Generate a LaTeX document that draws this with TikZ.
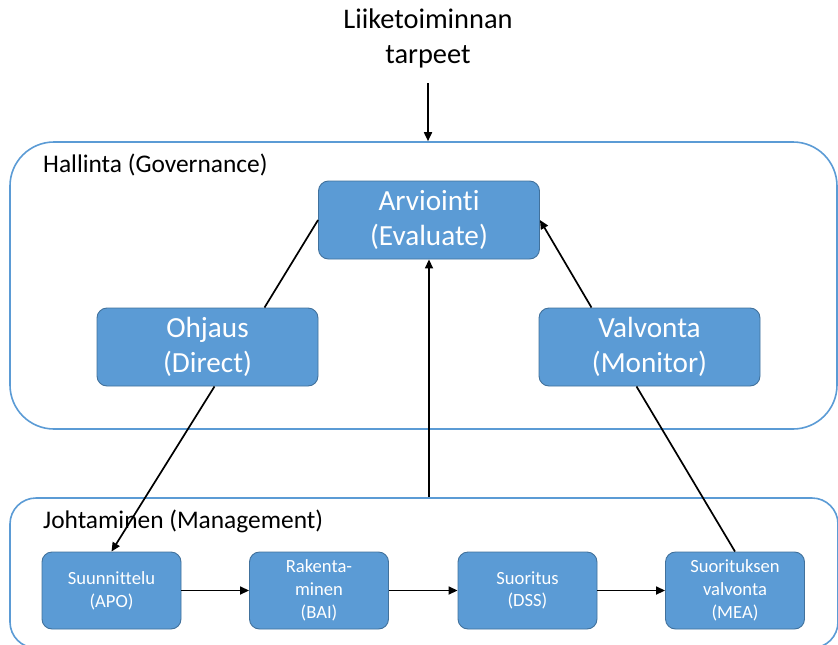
\documentclass[tikz,border=0pt]{standalone}
\usepackage{fontspec}
\setmainfont{Carlito}[Ligatures=NoCommon]
\usetikzlibrary{arrows.meta}
\definecolor{boxfill}{HTML}{5B9BD5}
\definecolor{boxline}{HTML}{41719C}

\begin{document}
\begin{tikzpicture}[x=1pt,y=-1pt,
  procbox/.style={draw=boxline, line width=0.9pt, fill=boxfill, rounded corners=10pt,
    text=white, align=center, inner sep=0pt},
  bigbox/.style={procbox, minimum width=221pt, minimum height=78pt,
    font=\fontsize{29.2}{35}\selectfont},
  smallbox/.style={procbox, minimum width=139pt, minimum height=77pt,
    font=\fontsize{18.6}{22.7}\selectfont},
  region/.style={draw=boxfill, line width=1.6pt, inner sep=0pt},
  regionlabel/.style={anchor=base west, inner sep=0pt, font=\fontsize{25.4}{30}\selectfont},
  titletext/.style={anchor=base, inner sep=0pt, font=\fontsize{28.4}{34}\selectfont},
  link/.style={line width=1.7pt, draw=black},
  flow/.style={link, -{Triangle[length=9pt,width=8pt]}},
]
\useasboundingbox (0,0) rectangle (838,645);

% containers
\node[region, rounded corners=44pt, minimum width=827pt, minimum height=287pt] (gov) at (423.5,285.5) {};
\node[region, rounded corners=26pt, minimum width=828pt, minimum height=150pt] (mgmt) at (424,573) {};
\node[regionlabel] (govlabel) at (43,172) {Hallinta (Governance)};
\node[regionlabel] (mgmtlabel) at (43,528) {Johtaminen (Management)};

% business needs
\node[titletext] (needs1) at (428,28) {Liiketoiminnan};
\node[titletext] (needs2) at (428,63) {tarpeet};
\coordinate (needsfoot) at (428,83);

% governance processes
\node[bigbox] (eval) at (429,220) {Arviointi\\(Evaluate)};
\node[bigbox] (direct) at (207.5,347) {Ohjaus\\(Direct)};
\node[bigbox] (monitor) at (649.5,347) {Valvonta\\(Monitor)};

% management processes
\node[smallbox] (apo) at (111.5,590.5) {Suunnittelu\\(APO)};
\node[smallbox] (bai) at (319,590.5) {Rakenta-\\minen\\(BAI)};
\node[smallbox] (dss) at (527.5,590.5) {Suoritus\\(DSS)};
\node[smallbox] (mea) at (735,590.5) {Suorituksen\\valvonta\\(MEA)};

% connectors
\draw[flow] (needsfoot) -- (needsfoot |- gov.north);
\draw[flow] (mgmt.north -| eval.south) -- (eval.south);
\draw[link] ([xshift=57pt]direct.north) -- (eval.west);
\draw[flow] ([xshift=7pt]direct.south) -- (apo.north);
\draw[flow] ([xshift=-58pt]monitor.north) -- (eval.east);
\draw[link] (mea.north) -- ([xshift=-13pt]monitor.south);
\draw[flow] (apo.east) -- (bai.west);
\draw[flow] (bai.east) -- (dss.west);
\draw[flow] (dss.east) -- (mea.west);
\end{tikzpicture}
\end{document}
